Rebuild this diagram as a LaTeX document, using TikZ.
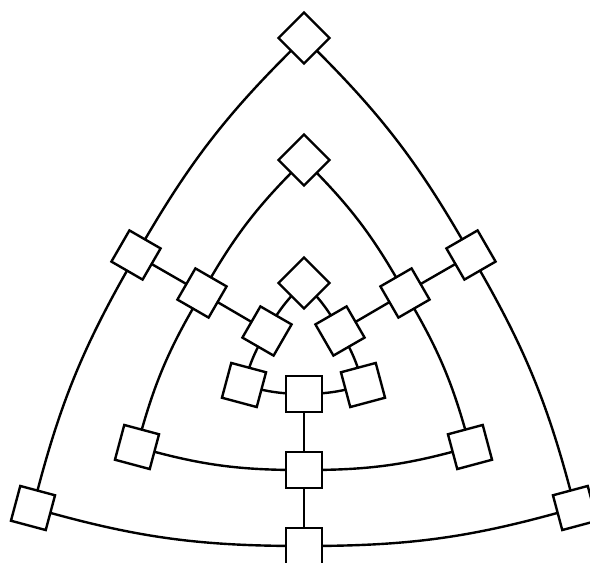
\documentclass[tikz,border=0pt]{standalone}
\usetikzlibrary{backgrounds}
\begin{document}
\begin{tikzpicture}[x=1pt,y=-1pt,
  box/.style={draw,line width=2.4pt,minimum size=36pt,inner sep=0pt,fill=white},
  link/.style={draw,line width=2.4pt}]
\useasboundingbox (0,0) rectangle (590,563);

% Outer ring
\node[box,rotate=45]  (o1) at (304,38) {};
\node[box,rotate=-30] (o2) at (136,255) {};
\node[box,rotate=-15] (o3) at (33,508) {};
\node[box]            (o4) at (304,546) {};
\node[box,rotate=15]  (o5) at (575,508) {};
\node[box,rotate=30]  (o6) at (471,255) {};

% Middle ring
\node[box,rotate=45]  (m1) at (304,160) {};
\node[box,rotate=-30] (m2) at (202,293) {};
\node[box,rotate=-15] (m3) at (137,447) {};
\node[box]            (m4) at (304,470) {};
\node[box,rotate=15]  (m5) at (470,447) {};
\node[box,rotate=30]  (m6) at (405,293) {};

% Inner ring
\node[box,rotate=45]  (i1) at (304,283) {};
\node[box,rotate=-30] (i2) at (267,331) {};
\node[box,rotate=-15] (i3) at (244,385) {};
\node[box]            (i4) at (304,394) {};
\node[box,rotate=15]  (i5) at (363,385) {};
\node[box,rotate=30]  (i6) at (340,331) {};

\begin{pgfonlayer}{background}
% Rings
\foreach \r in {o,m,i} {
    \draw[link] (\r1.center) to[bend right=8] (\r2.center) to[bend right=8] (\r3.center)
          to[bend right=8] (\r4.center) to[bend right=8] (\r5.center)
          to[bend right=8] (\r6.center) to[bend right=8] (\r1.center);
}

% Spokes
\foreach \k in {2,4,6} {
    \draw[link] (o\k.center) -- (m\k.center) -- (i\k.center);
}
\end{pgfonlayer}

\end{tikzpicture}
\end{document}
